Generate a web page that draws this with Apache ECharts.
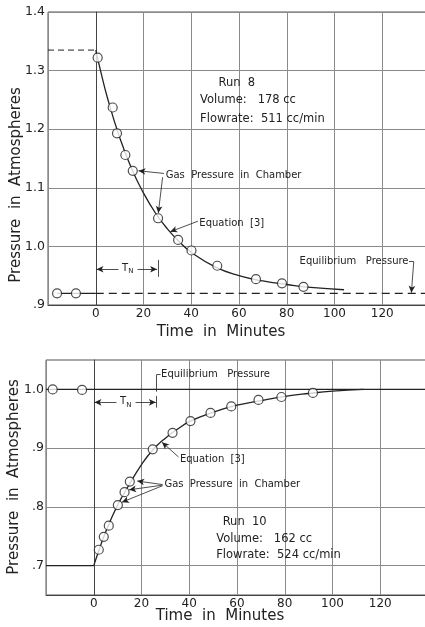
<!DOCTYPE html>
<html>
<head>
<meta charset="utf-8">
<script src="https://cdn.jsdelivr.net/npm/echarts@6/dist/echarts.min.js"></script>
<style>
  html, body { margin: 0; background: #fff; }
  #chart { width: 425px; height: 627px; }
</style>
</head>
<body>
<div id="chart"></div>
<script>
// Run 8 (top panel) - pressure decay
var run8PreTime = [-16.2, -8.3];
var run8PrePressure = [0.92, 0.92];
var run8Time = [0.8, 7.1, 8.9, 12.4, 15.5, 26.1, 34.5, 40.1, 50.9, 67.1, 78, 87];
var run8Pressure = [1.322, 1.237, 1.193, 1.156, 1.129, 1.048, 1.011, 0.993, 0.967, 0.944, 0.937, 0.931];
var run8CurveTime = [0, 2, 5, 10, 15, 20, 25, 30, 35, 40, 50, 60, 70, 80, 90, 104];
var run8CurvePressure = [1.335, 1.30, 1.252, 1.186, 1.133, 1.091, 1.057, 1.030, 1.008, 0.990, 0.965, 0.950, 0.941, 0.935, 0.930, 0.926];
var run8Initial = 1.335;
var run8Equilibrium = 0.92;

// Run 10 (bottom panel) - pressure rise
var run10PreTime = [-17.2, -4.9];
var run10PrePressure = [1.0, 0.999];
var run10Time = [2.1, 4.2, 6.3, 10.1, 12.9, 15.1, 24.7, 33, 40.5, 48.9, 57.6, 69, 78.6, 91.8];
var run10Pressure = [0.727, 0.749, 0.768, 0.803, 0.825, 0.843, 0.898, 0.926, 0.946, 0.960, 0.971, 0.982, 0.987, 0.994];
var run10CurveTime = [0, 2, 4, 6, 8, 10, 12, 15, 20, 25, 30, 35, 40, 50, 60, 70, 80, 90, 100, 113];
var run10CurvePressure = [0.70, 0.724, 0.747, 0.767, 0.786, 0.803, 0.818, 0.839, 0.872, 0.898, 0.917, 0.932, 0.945, 0.961, 0.973, 0.981, 0.988, 0.993, 0.997, 1.0];
var run10Start = 0.70;
var run10Equilibrium = 1.0;

// tick labels
var timeLabels = [0, 20, 40, 60, 80, 100, 120];
var run8PressureTicks = [0.9, 1.0, 1.1, 1.2, 1.3, 1.4];
var run10PressureTicks = [0.7, 0.8, 0.9, 1.0];

var FONT = 'DejaVu Sans';
var INK = '#222';

function zip(xs, ys) { return xs.map(function (x, i) { return [x, ys[i]]; }); }
function pLabel(v) {
  var r = Math.round(v * 10) / 10;
  return r < 1 ? '.' + Math.round(r * 10) : r.toFixed(1);
}

function xAxis(gi) {
  return {
    type: 'value', gridIndex: gi, min: -20, max: 140, interval: 20,
    axisLine: { show: true, lineStyle: { color: '#444', width: 1 } },
    axisTick: { show: false },
    splitLine: { show: true, lineStyle: { color: '#8a8a8a', width: 1 } },
    axisLabel: {
      color: INK, fontFamily: FONT, fontSize: 12, margin: 3,
      formatter: function (v) { return timeLabels.indexOf(Math.round(v)) >= 0 ? String(Math.round(v)) : ''; }
    }
  };
}

var circle = {
  type: 'scatter', symbol: 'circle', symbolSize: 9, z: 5,
  itemStyle: { color: '#fff', borderColor: INK, borderWidth: 1.2 }
};
function lineS(xi, data, opt) {
  return Object.assign({
    type: 'line', xAxisIndex: xi, yAxisIndex: xi, data: data, symbol: 'none',
    lineStyle: { color: INK, width: 1.3 }, z: 3
  }, opt || {});
}
function seg(a, b, arrowEnd) {
  return [{ coord: a, symbol: 'none' }, { coord: b, symbol: arrowEnd ? 'arrow' : 'none' }];
}
function notes(xi, lines) {
  return {
    type: 'line', xAxisIndex: xi, yAxisIndex: xi, data: [], silent: true,
    markLine: {
      silent: true, symbol: ['none', 'none'], symbolSize: [5, 7],
      label: { show: false },
      lineStyle: { color: INK, width: 0.8, type: 'solid' },
      data: lines
    }
  };
}

var option = {
  animation: false,
  backgroundColor: '#fff',
  grid: [
    { left: 48, right: -5, top: 12, height: 293, show: true, borderColor: '#555', borderWidth: 1, outerBoundsMode: 'none', containLabel: false },
    { left: 46, right: -3, top: 360, height: 235, show: true, borderColor: '#555', borderWidth: 1, outerBoundsMode: 'none', containLabel: false }
  ],
  xAxis: [xAxis(0), xAxis(1)],
  yAxis: [
    {
      type: 'value', gridIndex: 0, min: 0.9, max: 1.4, interval: 0.1,
      axisLine: { show: true, lineStyle: { color: '#444' } },
      axisTick: { show: false },
      splitLine: { show: true, lineStyle: { color: '#8a8a8a' } },
      axisLabel: { color: INK, fontFamily: FONT, fontSize: 12.5, margin: 3, formatter: pLabel }
    },
    {
      type: 'value', gridIndex: 1, min: 0.65, max: 1.05,
      axisLine: { show: true, lineStyle: { color: '#444' } },
      axisTick: { show: false, customValues: run10PressureTicks },
      splitLine: { show: true, lineStyle: { color: '#8a8a8a' } },
      axisLabel: { color: INK, fontFamily: FONT, fontSize: 12.5, margin: 2, customValues: run10PressureTicks, formatter: pLabel }
    }
  ],
  series: [
    // ---- top panel ----
    lineS(0, [[-20, run8Initial], [0, run8Initial]], { lineStyle: { color: INK, width: 1, type: [6, 4] } }),
    lineS(0, [[0, run8Equilibrium], [140, run8Equilibrium]], { lineStyle: { color: INK, width: 1.2, type: [8, 5] } }),
    lineS(0, zip(run8PreTime, run8PrePressure).concat([[0, run8Equilibrium]])),
    lineS(0, zip(run8CurveTime, run8CurvePressure), { smooth: true }),
    Object.assign({}, circle, { xAxisIndex: 0, yAxisIndex: 0, data: zip(run8PreTime, run8PrePressure).concat(zip(run8Time, run8Pressure)) }),
    notes(0, [
      seg([28.6, 1.1245], [17.9, 1.129], true),
      seg([28.0, 1.118], [26.2, 1.057], true),
      seg([42.8, 1.043], [31.2, 1.025], true),
      seg([9.5, 0.961], [0.3, 0.961], true),
      seg([17.5, 0.961], [25.7, 0.961], true),
      seg([26, 0.977], [26, 0.948], false),
      seg([131.2, 0.974], [133.2, 0.974], false),
      seg([133.2, 0.974], [132.2, 0.921], true)
    ]),
    // ---- bottom panel ----
    lineS(1, [[-20, run10Equilibrium], [140, run10Equilibrium]]),
    lineS(1, [[-20, run10Start], [0, run10Start]]),
    lineS(1, zip(run10CurveTime, run10CurvePressure), { smooth: true }),
    Object.assign({}, circle, { xAxisIndex: 1, yAxisIndex: 1, data: zip(run10PreTime, run10PrePressure).concat(zip(run10Time, run10Pressure)) }),
    notes(1, [
      seg([28.0, 1.025], [26.3, 1.025], false),
      seg([26.3, 1.025], [26.3, 0.996], false),
      seg([9.5, 0.978], [0.3, 0.978], true),
      seg([17.5, 0.978], [26.0, 0.978], true),
      seg([26.3, 0.989], [26.3, 0.969], false),
      seg([35.5, 0.885], [28.6, 0.910], true),
      seg([28.8, 0.838], [18.2, 0.844], true),
      seg([28.8, 0.837], [14.8, 0.829], true),
      seg([28.8, 0.836], [11.8, 0.808], true)
    ])
  ]
};

var chart = echarts.init(document.getElementById('chart'), null, { renderer: 'canvas' });
chart.setOption(option);

// text annotations, placed in data coordinates
var run8Notes = [
  { at: [59.1, 1.279], text: 'Run  8', align: 'center', size: 11.5 },
  { at: [43.7, 1.249], text: 'Volume:   178 cc', size: 11.5 },
  { at: [43.7, 1.217], text: 'Flowrate:  511 cc/min', size: 11.5 },
  { at: [29.3, 1.1207], text: 'Gas  Pressure  in  Chamber', size: 10 },
  { at: [43.4, 1.040], text: 'Equation  [3]', size: 10 },
  { at: [131, 0.974], text: 'Equilibrium   Pressure', align: 'right', size: 10 }
];
var run10Notes = [
  { at: [63.2, 0.775], text: 'Run  10', align: 'center', size: 11.5 },
  { at: [51.3, 0.745], text: 'Volume:   162 cc', size: 11.5 },
  { at: [51.3, 0.718], text: 'Flowrate:  524 cc/min', size: 11.5 },
  { at: [29.6, 0.838], text: 'Gas  Pressure  in  Chamber', size: 10 },
  { at: [36.1, 0.881], text: 'Equation  [3]', size: 10 },
  { at: [28.2, 1.025], text: 'Equilibrium   Pressure', size: 10 }
];

function textEl(gi, n) {
  var px = chart.convertToPixel({ gridIndex: gi }, n.at);
  return {
    type: 'text', x: px[0], y: px[1], silent: true,
    style: { text: n.text, fill: INK, font: n.size + 'px "' + FONT + '"', align: n.align || 'left', verticalAlign: 'middle' }
  };
}
function tnEl(gi, at) {
  var px = chart.convertToPixel({ gridIndex: gi }, at);
  return {
    type: 'text', x: px[0], y: px[1], silent: true,
    style: {
      text: '{a|T}{b|N}', align: 'center', verticalAlign: 'middle',
      rich: {
        a: { fontFamily: FONT, fontSize: 10, fill: INK, color: INK },
        b: { fontFamily: FONT, fontSize: 7, fill: INK, color: INK, padding: [6, 0, 0, 0] }
      }
    }
  };
}

var graphics = [];
run8Notes.forEach(function (n) { graphics.push(textEl(0, n)); });
run10Notes.forEach(function (n) { graphics.push(textEl(1, n)); });
graphics.push(tnEl(0, [13.4, 0.962]));
graphics.push(tnEl(1, [13.4, 0.979]));
// axis titles
var titleFont = '15px "' + FONT + '"';
graphics.push({ type: 'text', x: 221, y: 332, style: { text: 'Time  in  Minutes', font: titleFont, fill: INK, align: 'center', verticalAlign: 'middle' } });
graphics.push({ type: 'text', x: 220, y: 616, style: { text: 'Time  in  Minutes', font: titleFont, fill: INK, align: 'center', verticalAlign: 'middle' } });
graphics.push({ type: 'text', x: 16, y: 185, rotation: Math.PI / 2, style: { text: 'Pressure  in  Atmospheres', font: titleFont, fill: INK, align: 'center', verticalAlign: 'middle' } });
graphics.push({ type: 'text', x: 14, y: 477, rotation: Math.PI / 2, style: { text: 'Pressure  in  Atmospheres', font: titleFont, fill: INK, align: 'center', verticalAlign: 'middle' } });

chart.setOption({ graphic: graphics });
</script>
</body>
</html>
